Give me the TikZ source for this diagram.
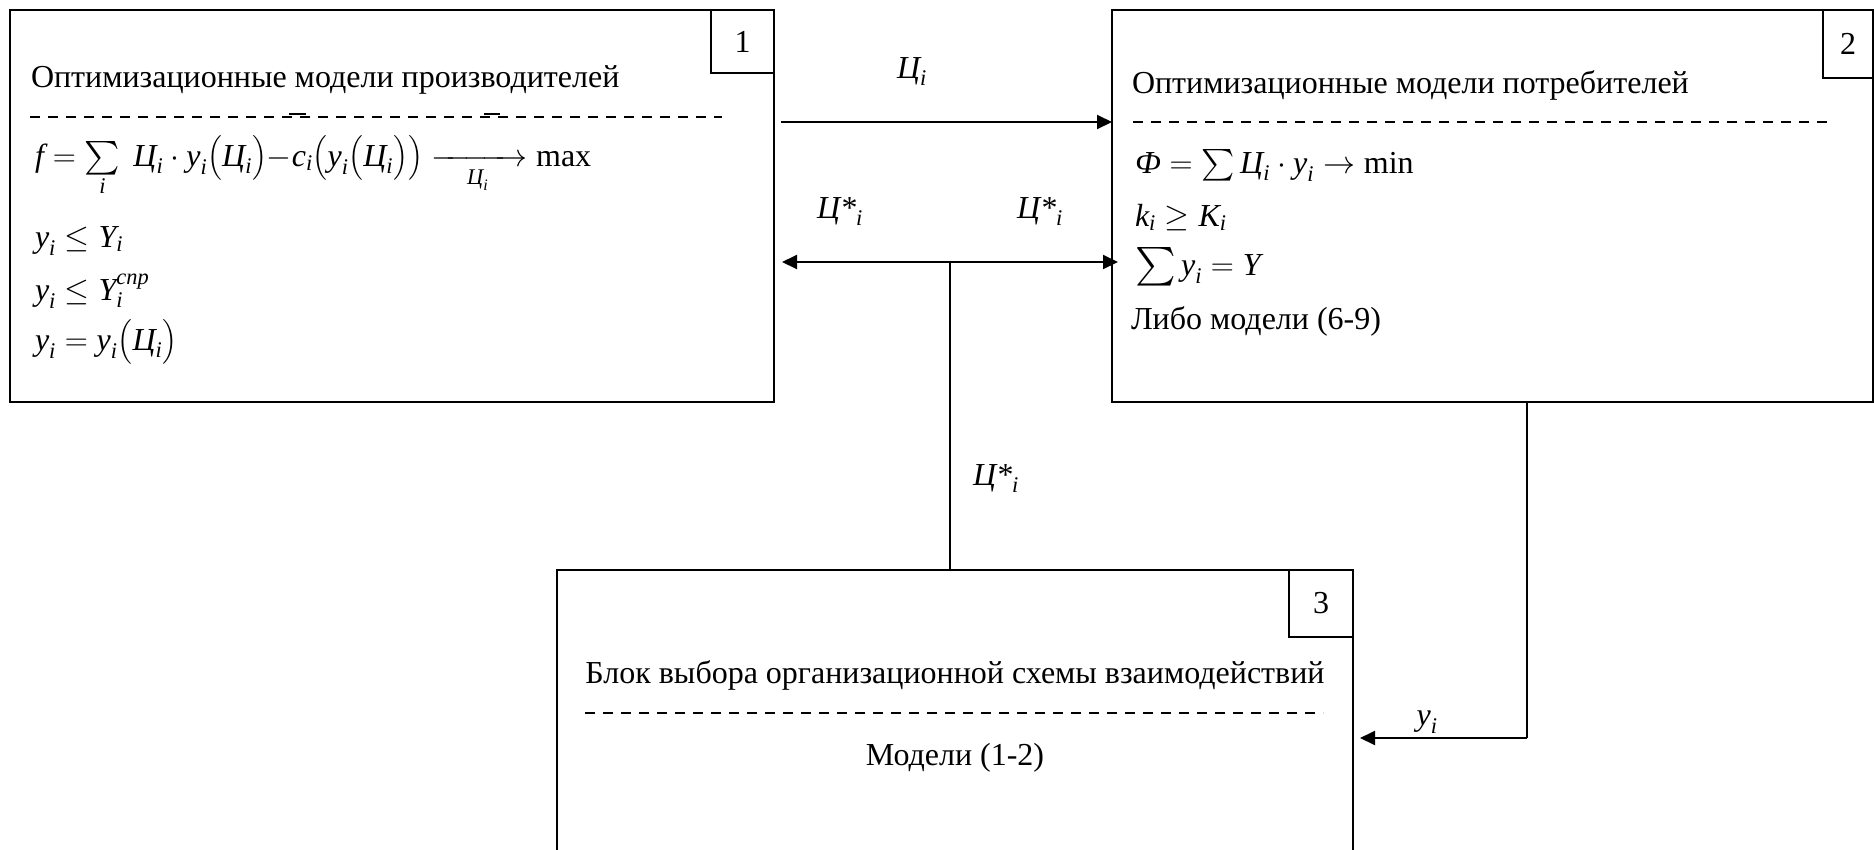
\RequirePackage{fix-cm}
\documentclass[tikz,border=0pt]{standalone}
\usepackage{amsmath}
\usepackage{graphicx}
\usepackage{fontspec}
\setmainfont{Liberation Serif}
\usetikzlibrary{arrows.meta,calc}
\newcommand{\I}[1]{\textit{#1}}
\newcommand{\bigsum}[1]{\mathop{\vcenter{\hbox{\scalebox{#1}{$\textstyle\sum$}}}}}
\begin{document}
\begin{tikzpicture}[x=1pt,y=-1pt,
  box/.style={draw,line width=2pt,rectangle,inner sep=0pt,outer sep=0pt,anchor=north west},
  numbox/.style={draw,line width=1.5pt,rectangle,inner sep=0pt,outer sep=0pt,anchor=north west,font=\fontsize{32}{36}\selectfont},
  txt/.style={inner sep=0pt,outer sep=0pt,font=\fontsize{32}{38}\selectfont},
  sep/.style={line width=1.6pt,dash pattern=on 10pt off 8pt},
  arr/.style={line width=2pt,-{Triangle[length=15pt,width=14pt]}},
  conn/.style={line width=1.5pt}]
\useasboundingbox (0,0) rectangle (1874,849);
\clip (0,0) rectangle (1874,849);
% boxes
\node[box,minimum width=764pt,minimum height=392pt] (b1) at (10,10) {};
\node[box,minimum width=761pt,minimum height=392pt] (b2) at (1112,10) {};
\node[box,minimum width=796pt,minimum height=340pt] (b3) at (557,570) {};
\node[numbox,minimum width=63pt,minimum height=63pt] (n1) at (711,10) {1};
\node[numbox,minimum width=50pt,minimum height=68pt] (n2) at (1823,10) {2};
\node[numbox,minimum width=64pt,minimum height=67pt] (n3) at (1289,570) {3};
% box 1 content
\node[txt,anchor=base west] (t1) at (31,87) {Оптимизационные модели производителей};
\draw[sep] (30,117) -- (722,117);
\draw[line width=1.6pt] (289,114) -- (306,114) (484,114) -- (500,114);
\node[txt,anchor=base west] (f1) at (35,166) {$\I{f} = \bigsum{1.35}\limits_{\I{i}}\ \I{Ц}_{\I{i}}\cdot \I{y}_{\I{i}}\bigl(\I{Ц}_{\I{i}}\bigr){-}\I{c}_{\I{i}}\bigl(\I{y}_{\I{i}}\bigl(\I{Ц}_{\I{i}}\bigr)\bigr)\xrightarrow[\I{Ц}_{\I{i}}]{\hspace{78pt}}\text{max}$};
\node[txt,anchor=base west] (f2) at (35,247) {$\I{y}_{\I{i}} \le \I{Y}_{\I{i}}$};
\node[txt,anchor=base west] (f3) at (35,300) {$\I{y}_{\I{i}} \le \I{Y}_{\I{i}}^{\I{спр}}$};
\node[txt,anchor=base west] (f4) at (35,350) {$\I{y}_{\I{i}} = \I{y}_{\I{i}}\bigl(\I{Ц}_{\I{i}}\bigr)$};
% box 2 content
\node[txt,anchor=base west] (t2) at (1132,93) {Оптимизационные модели потребителей};
\draw[sep] (1133,122) -- (1830,122);
\node[txt,anchor=base west] (g1) at (1135,173) {$\I{Ф} = \bigsum{1.27}\I{Ц}_{\I{i}}\cdot \I{y}_{\I{i}} \to \text{min}$};
\node[txt,anchor=base west] (g2) at (1135,226) {$\I{k}_{\I{i}} \ge \I{K}_{\I{i}}$};
\node[txt,anchor=base west] (g3) at (1135,275) {$\bigsum{1.55}\I{y}_{\I{i}} = \I{Y}$};
\node[txt,anchor=base west] (g4) at (1131,329) {Либо модели (6-9)};
% box 3 content
\node[txt,anchor=base] (t3) at (955,683) {Блок выбора организационной схемы взаимодействий};
\draw[sep] (585,713) -- (1323,713);
\node[txt,anchor=base] (m3) at (955,765) {Модели (1-2)};
% connectors
\draw[arr] ($(b1.north east)+(7,112)$) -- ($(b2.north west)+(0,112)$);
\coordinate (j) at ($(b3.north west)+(393,-308)$);
\draw[arr] (j) -- ($(b1.north east)+(8,252)$);
\draw[arr] (j) -- ($(b2.north west)+(6,252)$);
\draw[conn] (j) -- (j |- b3.north);
\draw[conn] ($(b2.south west)+(415,0)$) -- ($(b2.south west)+(415,336)$);
\draw[arr] ($(b2.south west)+(415,336)$) -- ($(b3.north east)+(7,168)$);
% labels
\node[txt,anchor=base] (l1) at (912,78) {$\I{Ц}_{\I{i}}$};
\node[txt,anchor=base] (l2) at (840,218) {$\I{Ц*}_{\I{i}}$};
\node[txt,anchor=base] (l3) at (1040,218) {$\I{Ц*}_{\I{i}}$};
\node[txt,anchor=base] (l4) at (996,485) {$\I{Ц*}_{\I{i}}$};
\node[txt,anchor=base] (l5) at (1427,725) {$\I{y}_{\I{i}}$};
\end{tikzpicture}
\end{document}
